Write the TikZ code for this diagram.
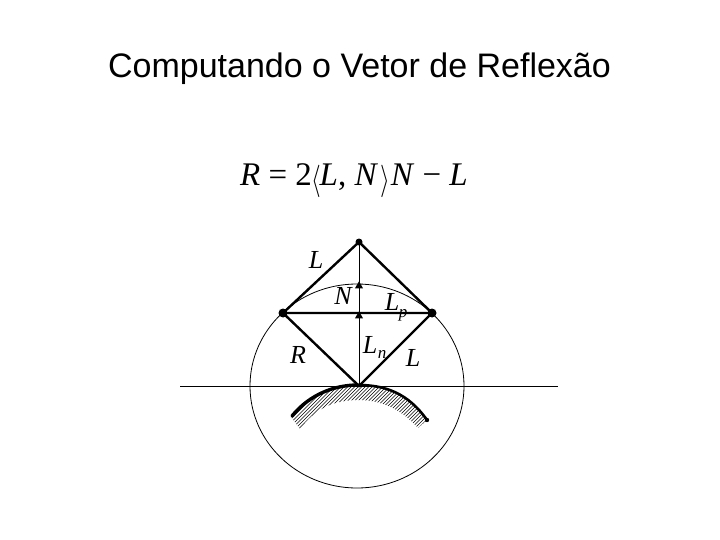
\documentclass[tikz,border=0pt]{standalone}
\usepackage{fontspec}
\setmainfont{Liberation Serif}
\newfontfamily\titlefont{Liberation Sans}
\usetikzlibrary{shapes.geometric}
\newcommand{\tallbr}[1]{\raisebox{-4pt}{\scalebox{1}[1.3]{$#1$}}}
\tikzset{
 thinline/.style={line width=0.8pt,black},
 thick line/.style={line width=2.4pt,black},
 dotmark/.style={circle,fill=black,inner sep=0pt,minimum size=9pt},
 lab/.style={font=\fontsize{26}{28}\selectfont\itshape,inner sep=0pt},
 sublab/.style={font=\fontsize{17}{19}\selectfont\itshape,inner sep=0pt},
 tri/.style={isosceles triangle,isosceles triangle apex angle=60,shape border rotate=90,fill=black,inner sep=0pt,minimum size=7pt}
}
\begin{document}
\begin{tikzpicture}[x=1pt,y=-1pt]
\useasboundingbox (0,0) rectangle (720,540);
\fill[white] (0,0) rectangle (720,540);
\node[font=\fontsize{34}{36}\selectfont\titlefont,inner sep=0pt] (title) at (359.5,69) {Computando o Vetor de Reflexão};
\node[font=\fontsize{33}{36}\selectfont,inner sep=0pt] (formula) at (354,181) {\textit{R} = 2\kern-1pt\tallbr{\langle}\kern-1pt\textit{L}, \textit{N}\kern2pt\tallbr{\rangle}\kern1pt\textit{N} − \textit{L}};
\coordinate (apex) at (359,242);
\coordinate (left) at (283,313);
\coordinate (right) at (432,313);
\coordinate (base) at (359,386);
\coordinate (hl) at (180,386);
\coordinate (hr) at (558,386);
\draw[thinline] (357,386) ellipse (107 and 102);
\draw[thinline] (hl) -- (hr);
\begin{scope}
\clip (291,417) .. controls (310,392) and (335,385) .. (358,385) .. controls (385,385) and (408,393) .. (427,420) -- (418,428) .. controls (400,408) and (380,400) .. (358,400) .. controls (335,400) and (315,408) .. (300,429) -- cycle;
\foreach \i in {0,3.5,...,180} {\draw[line width=0.5pt] (270+\i,440) -- (270+\i+60,380);}
\end{scope}
\draw[line width=3.4pt,line cap=round] (292,416) .. controls (310,394) and (335,385) .. (358,385);
\draw[line width=2.6pt] (358,385) .. controls (385,385) and (408,393) .. (427,420);
\fill (427,420) circle (2.2pt);
\draw[thick line] (left) -- (apex) -- (right) -- (base) -- (left) -- (right);
\draw[thinline] (base) -- (apex);
\node[dotmark] (dl) at (left) {};
\node[dotmark] (dr) at (right) {};
\node[dotmark,minimum size=7pt] (da) at (apex) {};
\node[tri] (t1) at (359,286) {};
\node[tri] (t2) at (359,316) {};
\node[lab] (L1) at (316,260) {L};
\node[lab] (N) at (343,296) {N};
\node[lab] (Lp) at (392,302) {L};
\node[sublab] (p) at (403,315) {p};
\node[lab] (Ln) at (370,345) {L};
\node[sublab] (n) at (382,354) {n};
\node[lab] (L2) at (413,358) {L};
\node[lab] (R) at (298,355) {R};
\end{tikzpicture}
\end{document}
